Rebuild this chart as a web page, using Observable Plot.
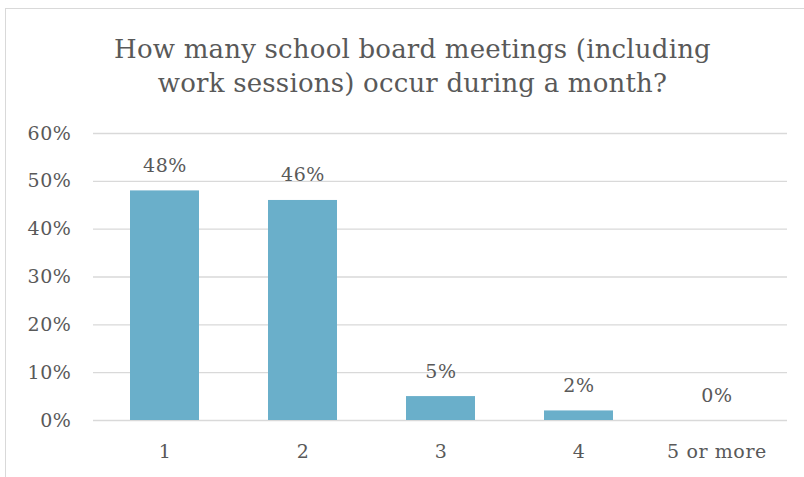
<!DOCTYPE html>
<html>
<head>
<meta charset="utf-8">
<script src="https://cdn.jsdelivr.net/npm/d3@7"></script>
<script src="https://cdn.jsdelivr.net/npm/@observablehq/plot@0.6"></script>
<style>
  html, body { margin: 0; padding: 0; background: #fff; }
  #wrap { position: relative; width: 804px; height: 477px; overflow: hidden; }
  #border { position: absolute; left: 5px; top: 8px; width: 820px; height: 480px; border: 1px solid #d9d9d9; box-sizing: border-box; }
  #chart { position: absolute; left: 0; top: 0; }
  #chart svg text { letter-spacing: 0.6px; }
  #chart svg text.title { letter-spacing: 0.2px; }
</style>
</head>
<body>
<div id="wrap"><div id="border"></div><div id="chart"></div></div>
<script>
const title = "How many school board meetings (including\nwork sessions) occur during a month?";
const categories = ["1", "2", "3", "4", "5 or more"];
const values = [0.48, 0.46, 0.05, 0.02, 0.00];
const yTicks = [0, 0.1, 0.2, 0.3, 0.4, 0.5, 0.6];

const data = categories.map((c, i) => ({category: c, value: values[i]}));
const pct = d3.format(".0%");
const font = "'DejaVu Serif', serif";
const gray = "#595959";

const chart = Plot.plot({
  width: 804,
  height: 477,
  marginLeft: 93,
  marginRight: 17,
  marginTop: 133,
  marginBottom: 57,
  style: {fontFamily: font, fontSize: "19px", color: gray, background: "transparent"},
  x: {domain: categories, paddingInner: 0.5, paddingOuter: 0.25, label: null, tickSize: 0, tickPadding: 24},
  y: {domain: [0, 0.6], ticks: yTicks, tickFormat: pct, label: null, tickSize: 0, tickPadding: 22},
  marks: [
    Plot.gridY(yTicks, {stroke: "#d9d9d9", strokeOpacity: 1, strokeWidth: 1.3}),
    Plot.barY(data, {x: "category", y: "value", fill: "#6AAFCA"}),
    Plot.text(data, {x: "category", y: "value", text: d => pct(d.value), lineAnchor: "bottom", dy: -19, fill: gray, fontSize: 19}),
    Plot.text([title], {frameAnchor: "top", dx: -28, dy: -100, lineAnchor: "top", lineHeight: 1.32, fill: gray, fontSize: 26, className: "title"})
  ]
});
chart.querySelectorAll("g.title text, text.title").forEach(t => t.classList.add("title"));
document.getElementById("chart").appendChild(chart);
</script>
</body>
</html>
